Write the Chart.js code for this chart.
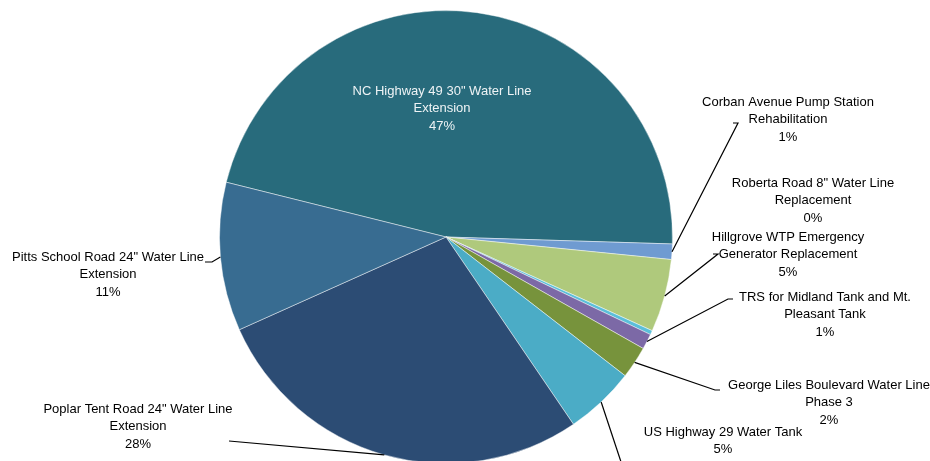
<!DOCTYPE html>
<html>
<head>
<meta charset="utf-8">
<script src="https://cdn.jsdelivr.net/npm/chart.js@4/dist/chart.umd.min.js"></script>
<style>
  html, body { margin: 0; padding: 0; background: #fff; overflow: hidden; }
  #wrap { width: 930px; height: 461px; overflow: hidden; }
</style>
</head>
<body>
<div id="wrap"><canvas id="pie-chart" width="930" height="474"></canvas></div>
<script>
// Project names (one entry per line of the label)
const projects = [
    ['NC Highway 49 30" Water Line', 'Extension'],
    ['Corban Avenue Pump Station', 'Rehabilitation'],
    ['Hillgrove WTP Emergency', 'Generator Replacement'],
    ['Roberta Road 8" Water Line', 'Replacement'],
    ['TRS for Midland Tank and Mt.', 'Pleasant Tank'],
    ['George Liles Boulevard Water Line', 'Phase 3'],
    ['US Highway 29 Water Tank'],
    ['Poplar Tent Road 24" Water Line', 'Extension'],
    ['Pitts School Road 24" Water Line', 'Extension']
];

// Share of total cost (percent)
const shares = [46.6, 1.1, 5.2, 0.3, 1.1, 2.3, 5.0, 27.8, 10.6];

const sliceColors = [
    '#286b7c', '#6f9bd1', '#afc97c', '#5bbfd9', '#7c69a6',
    '#77933c', '#4bacc6', '#2c4c74', '#386c91'
];

// Label layout: text centre, first line y, leader elbow (null = no leader)
const labelLayout = [
    { x: 442, y: 91,  inside: true },
    { x: 788, y: 102, elbow: [738, 123], tick: 733 },
    { x: 788, y: 237, elbow: [718, 254], tick: 713 },
    { x: 813, y: 183 },
    { x: 825, y: 297, elbow: [728, 299], tick: 733 },
    { x: 829, y: 385, elbow: [715, 390], tick: 720 },
    { x: 723, y: 432, elbow: [625, 474] },
    { x: 138, y: 409, elbow: [229, 441] },
    { x: 108, y: 257, elbow: [212, 262], tick: 205 }
];

const total = shares.reduce((a, b) => a + b, 0);

// Draws the data labels and leader lines
const pieLabels = {
    id: 'pieLabels',
    afterDraw(chart) {
        const ctx = chart.ctx;
        const arcs = chart.getDatasetMeta(0).data;
        ctx.save();
        ctx.font = '13px "Liberation Sans", Arial, sans-serif';
        ctx.textAlign = 'center';
        ctx.textBaseline = 'middle';
        arcs.forEach((arc, i) => {
            const p = arc.getProps(['x', 'y', 'startAngle', 'endAngle', 'outerRadius'], true);
            const lay = labelLayout[i];
            if (lay.elbow) {
                const mid = (p.startAngle + p.endAngle) / 2;
                const ex = p.x + Math.cos(mid) * p.outerRadius;
                const ey = p.y + Math.sin(mid) * p.outerRadius;
                ctx.strokeStyle = '#000';
                ctx.lineWidth = 1.2;
                ctx.beginPath();
                ctx.moveTo(ex, ey);
                ctx.lineTo(lay.elbow[0], lay.elbow[1]);
                if (lay.tick) ctx.lineTo(lay.tick, lay.elbow[1]);
                ctx.stroke();
            }
            const lines = projects[i].concat([Math.round(shares[i] / total * 100) + '%']);
            ctx.fillStyle = lay.inside ? '#eef3f5' : '#000';
            lines.forEach((t, k) => ctx.fillText(t, lay.x, lay.y + k * 17.5));
        });
        ctx.restore();
    }
};

const pieCanvas = document.getElementById('pie-chart');

let pieData = {
    labels: projects.map(p => p.join(' ')),
    datasets: [{
        data: shares,
        backgroundColor: sliceColors,
        borderColor: 'rgba(255,255,255,0.45)',
        borderWidth: 1
    }]
};

let pieOptions = {
    responsive: false,
    animation: false,
    rotation: -76,
    layout: {
        padding: { top: 10, bottom: 10, left: 0, right: 38 }
    },
    plugins: {
        legend: { display: false },
        tooltip: { enabled: false }
    }
};

let pieChart = new Chart(pieCanvas, {
    type: 'pie',
    data: pieData,
    options: pieOptions,
    plugins: [pieLabels]
});
</script>
</body>
</html>
